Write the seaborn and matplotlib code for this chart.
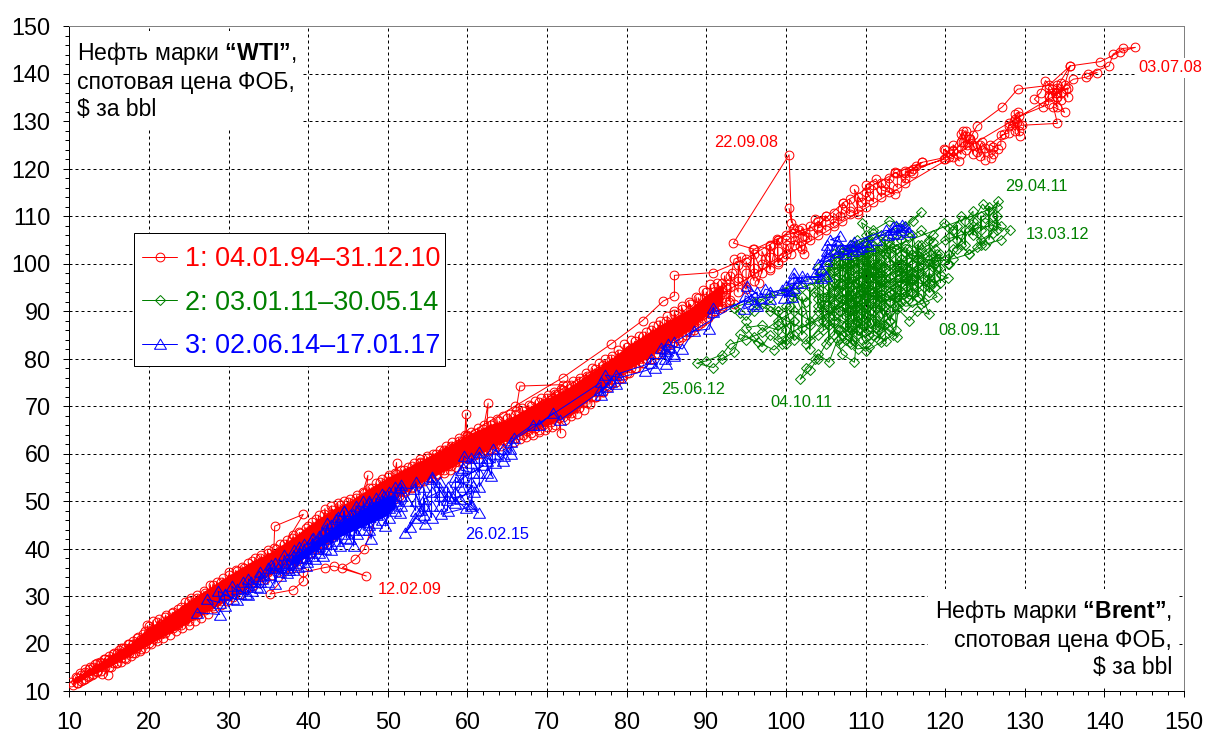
import matplotlib
matplotlib.use("Agg")
import matplotlib.pyplot as plt
from matplotlib.patches import Rectangle
from matplotlib.ticker import MultipleLocator
import pandas as pd
import seaborn as sns

sns.set_theme(style="white")
plt.rcParams["font.family"] = ["Liberation Sans", "DejaVu Sans"]
plt.rcParams["mathtext.fontset"] = "custom"
plt.rcParams["mathtext.bf"] = "Liberation Sans:bold"
plt.rcParams["mathtext.default"] = "regular"

# Where the markers of period 1 overlap into a solid mass: lower and upper WTI edge per Brent price
red_mass_brent = [10.5,12,14,16,18,20,22,25,28,30,33,35,38,40,43,45,48,50,53,55,58,60,63,65,68,70,73,75,78,80,83,85,88,90,92]
red_mass_low = [11.5,12.8,14.2,16,17.8,19.8,21.6,24.4,27.4,29.2,32.2,34.2,37.2,39.2,42.2,44.6,47.6,49.6,52.6,54.6,57,59,61,62.8,64.8,66,68,71,75,77.5,80.5,83,86,89,91.5]
red_mass_high = [12.2,14.2,16.2,18.4,20.4,23.4,25.4,29,32.2,34.4,37.4,39,42.2,44.8,48.2,49.8,53,55,57.6,59.2,62,64,66.2,67.2,70,71.6,74.2,76.6,79.8,82.6,85.8,87.8,90.6,93.4,95.6]
# Same for period 3
blue_mass_brent = [38,40,42,44,46,48,50,51]
blue_mass_low = [36.5,38.5,41,42.5,44,45.5,47,49]
blue_mass_high = [38,40.5,43,45.5,47.5,49.5,51,51.5]

# Brent price -> WTI prices seen at that Brent price
series_1_rows = {
 11:(11.6,12.8),11.5:(13.4,12.2),12:(12.6,14),12.5:(14.6,13.2),13:(13.5,15),13.5:(15.8,14.2),14:(14.2,16),14.5:(16.8,15),
 15:(15,16.8),15.5:(17.8,15.9),16:(16,18),16.5:(19,17),17:(17,19),17.5:(20,18),18:(18,20),18.5:(21.2,19),19:(18.8,21),19.5:(22.6,20),
 20:(20.2,22,23.6),20.5:(23,21),21:(21.2,23,24.6),21.5:(24.2,22),22:(22.2,24,25.6),22.5:(25,23),23:(23.2,25,26.6),23.5:(26,24),
 24:(24,26,27.6),24.5:(27.2,25),25:(24.8,26.8,29),25.5:(28,26),26:(26,27.6,29.6),26.5:(29,27),27:(27,28.6,30.6),27.5:(30.4,28),
 28:(28,30,32.4),28.5:(31.4,29),29:(29,30.8,33),29.5:(32.4,30),30:(30,32,34.4),30.5:(33.4,31),31:(31,33,35.2),31.5:(34.4,32),
 32:(32,33.8,36),32.5:(35.2,33),33:(33,35,37.4),33.5:(36.4,34),34:(34,35.8,38),34.5:(37.2,35),35:(35,36.8,39),35.5:(38.2,36),
 36:(36,37.8,40),36.5:(39.2,37),37:(37,38.8,41),37.5:(40.2,38),38:(38,40,42.2),38.5:(41.2,39),39:(39,41,43.2),39.5:(42.2,40),
 40:(40,42,44.8),40.5:(43.6,41.2),41:(41.2,43.6,46.2),41.5:(45,42.4),42:(42,44.6,47.2),42.5:(46,43.4),43:(43,45.6,48.2),43.5:(47,44.2),
 44:(44.4,46.8,49.2),44.5:(48,45.4),45:(45.2,47.4,49.8),45.5:(48.6,46.4),46:(46.2,48.4,50.6),46.5:(49.4,47.2),47:(47.4,49.4,51.6),47.5:(50.6,48.4),
 48:(48.2,50.4,52.8),48.5:(51.6,49.2),49:(49.2,51.4,54),49.5:(52.8,50.2),50:(50.2,52.4,55),50.5:(53.6,51.2),51:(51.2,53.2,55.6),51.5:(54.4,52),
 52:(52.2,54.2,56.6),52.5:(55.2,53),53:(53,55,57.4),53.5:(56.2,54),54:(54,56,58.2),54.5:(57,55),55:(55,56.8,59),55.5:(57.8,55.8),
 56:(55.6,57.6,59.8),56.5:(58.6,56.6),57:(56.6,58.6,60.8),57.5:(59.6,57.4),58:(57.4,59.4,61.6),58.5:(60.4,58.2),59:(58.2,60.2,62.6),59.5:(61.2,59),
 60:(59,61,63.6),60.5:(62.2,60),61:(60,62,64.4),61.5:(63,60.8),62:(60.6,62.8,65.2),62.5:(63.8,61.4),63:(61,63.4,66),63.5:(64.4,62),
 64:(62,64.2,66.8),64.5:(65.2,62.8),65:(62.6,65,67.4),65.5:(66,63.4),66:(63.2,65.8,68.2),66.5:(66.8,64),67:(63.8,66.4,69),67.5:(67.6,64.8),
 68:(64.4,67.2,70),68.5:(68.4,65.4),69:(65,68,70.8),69.5:(69,66),70:(65.6,68.8,71.6),70.5:(69.8,66.6),71:(66,69.6,72.6),71.5:(70.8,67.4),
 72:(67.6,70.6,73.4),72.5:(71.6,68.6),73:(68.6,71.4,74.4),73.5:(72.6,69.6),74:(69.6,72.4,75.2),74.5:(73.6,70.6),75:(70.6,73.4,76.4),75.5:(74.6,71.8),
 76:(72,74.6,77.8),76.5:(75.8,73),77:(73,76,78.6),77.5:(77,74.2),78:(74.6,77,79.8),78.5:(78.4,75.6),79:(75.6,78.4,81),79.5:(79.6,76.6),
 80:(77,79.8,82.4),80.5:(81,78),81:(78,81,83.6),81.5:(82.2,79),82:(79,82,84.8),82.5:(83.2,80),83:(80,83.2,86),83.5:(84.4,81),
 84:(81,84,87),84.5:(85.6,82),85:(82.4,85.6,88),85.5:(87,83.4),86:(83.4,86.8,89.4),86.5:(88,84.4),87:(84.6,88,90.4),87.5:(89,85.6),
 88:(85.6,89,91.4),88.5:(90,86.6),89:(87,90,92.8),89.5:(91.2,88),90:(88.4,91.4,94),90.5:(92.6,89.4),91:(90,93,95),91.5:(94,91),
 92:(91,94,96),92.5:(95,92),93:(92.4,95,97.4),94:(94,97,99.6),95:(95,98,100.4),96:(96.4,99,102),97:(98,100,102.6),98:(99,101.4,104),99:(100.4,102.6,105),
 100:(102,105),101:(104,106.5),102:(103,105.5,107.5),103:(105,108),104:(106,109),105:(107,110),106:(108,110.6),107:(109,111.5),
 108:(110.5,113.5),109:(111,114),110:(112,115),111:(113,116.5),112:(114,117),113:(115,118),114:(116,119),115:(117,119.5),116:(119,120),
 120:(122,124),121:(122.5,123.6,125),122:(123,125.5,127.2),122.6:(124,126.8,128),123.5:(123,125,127),124.4:(122.6,125),125:(121.8,124.4),126:(123,124.6),
 127:(125,127),128:(127.5,129.5),128.8:(128,130.4,131.4),129.3:(127.8,129.2,131),133:(133.5,135,137),134:(133,135,136,137.6),134.6:(134.5,136,138),135.4:(135,137),
}
# (Brent, WTI) path of the first period
series_1_points = [
 (10.2,12),(10.5,11.2),(10.8,13),(11.1,11.6),(11.4,13.8),(11.7,12.3),(12,14.6),(12.3,12.9),(12.6,15),(12.9,13.4),
 (13.2,15.6),(13.5,14),(13.8,16.2),(14.1,13.6),(14.4,16.8),(14.8,13.3),(15,17.4),(15.3,15),(15.6,18),(15.9,15.8),
 (16.2,18.6),(16.5,16.2),(16.8,19.1),(17.1,16.8),(17.4,19.8),(17.7,17.3),(18,20.6),(18.3,17.9),(18.6,21.3),(18.9,18.4),
 (19.2,22),(19.5,19),(19.8,23.8),(20.2,19.8),(20.5,24.8),(20.8,22),(21,20.5),(21.3,25.2),(21.6,23),(21.8,21.2),
 (22.1,26),(22.4,23.8),(22.6,21.8),(22.9,26.4),(23.2,24.5),(23.4,22.6),(23.7,27.2),(24,25),(24.2,23.2),(24.5,28.8),
 (24.8,26.2),(25,24),(25.3,29.6),(25.6,27),(25.8,24.8),(26.1,30.2),(26.4,27.8),(26.6,25.4),(26.9,31),(27.2,28.6),
 (27.4,26.2),(27.7,32.4),(28,30),(28.2,27.4),(28.5,33),(28.8,30.6),(29,28.2),(29.3,33.8),(29.6,31.4),(29.8,29),
 (30.1,35),(30.4,32.4),(30.6,29.8),(30.9,35.4),(31.2,33),(31.4,30.4),(31.7,36.2),(32,33.8),(32.2,31.4),(32.5,37),
 (32.8,34.8),(33,32.2),(33.3,38),(33.6,35.6),(33.8,32.8),(34.1,38.6),(34.4,36.2),(34.6,33.6),(34.9,39.6),(35.2,37),
 (35.4,34.4),(35.7,40.2),(35.8,44.7),(39.4,47.2),(36,37.8),(36.2,35),(36.5,41),(36.8,38.6),(37,35.8),(37.3,41.8),
 (37.6,39.4),(37.8,36.6),(38.1,42.8),(38.4,40.4),(38.6,37.4),(38.9,43.4),(39.2,41),(39.4,38),(39.7,44.4),(40,42),
 (40.2,39),(40.5,45.6),(40.8,42.6),(41,40),(41.3,47),(41.6,43.8),(41.8,41),(42.1,48.4),(42.4,45),(42.6,42),
 (42.9,49),(43.2,46),(43.4,42.8),(43.7,49.6),(44,46.8),(44.2,44),(44.5,50),(44.8,47.6),(45,44.6),(45.3,50.4),
 (45.6,48),(45.8,45.6),(46.1,51.2),(46.4,49),(46.6,46.4),(46.9,52),(47.5,55.4),(47.2,49.8),(47.4,47),(47.7,52.8),
 (48,50.4),(48.2,47.8),(48.5,53.8),(48.8,51),(49,48.6),(49.3,54.6),(49.6,52),(49.8,49.4),(50.1,55.4),(50.4,53),
 (50.6,50.2),(50.9,56),(51.1,58.1),(51.2,53.6),(51.4,51),(51.7,56.6),(52,54.2),(52.2,52),(52.5,57.2),(52.8,55),
 (53,52.8),(53.3,58),(53.6,55.8),(53.8,53.6),(54.1,58.8),(54.4,56.4),(54.6,54.2),(54.9,59.4),(55.2,57),(55.4,54.8),
 (55.7,60),(56,57.8),(56.2,55.4),(56.5,60.8),(56.8,58.4),(57,56),(57.3,61.6),(57.6,59.2),(57.8,56.6),(58.1,62.4),
 (58.4,60),(58.6,57.2),(58.9,63.2),(59.2,60.6),(59.4,58),(59.7,64),(59.8,68.4),(60,61.2),(60.2,58.8),(60.5,64.6),
 (60.8,62),(61,59.6),(61.3,65.4),(61.6,62.8),(61.8,60),(62.1,66),(62.6,70.6),(62.4,63.6),(62.6,60.6),(62.9,66.8),
 (63.2,64),(63.4,61),(63.7,67.2),(64,64.6),(64.2,61.6),(64.5,67.8),(64.8,65),(65,62),(65.3,68.4),(65.6,65.6),
 (65.8,62.4),(66.1,69),(66.6,74.2),(72,74.5),(66.4,66.2),(66.6,63),(66.9,69.6),(67.2,67),(67.4,63.4),(67.7,70.2),
 (68,67.4),(68.2,64),(68.5,71),(68.8,68),(69,64.6),(69.3,71.6),(69.6,68.8),(69.8,65),(70.1,72.4),(70.4,69.4),
 (70.6,65.6),(70.9,73),(71.2,70),(71.7,64.3),(71.7,73.6),(72,70.6),(72.2,67),(72.5,74.4),(72.8,71.2),(73,67.8),
 (73.3,75.2),(73.6,72),(73.8,68.4),(74.1,76),(74.4,73),(74.6,69.2),(74.9,77),(75.2,74),(75.4,70.4),(75.7,78),
 (76,75),(76.2,71.8),(76.5,79),(76.8,76.4),(77,73),(77.3,79.8),(77.6,77),(77.8,74),(78.1,80.6),(78.4,78),
 (78.6,75),(78.9,81.8),(79.2,79),(79.4,76),(79.7,83),(80,80.4),(80.3,77),(80.6,83.8),(80.9,81),(81.2,78),
 (81.5,84.8),(81.8,82),(82.1,79),(82.4,85.6),(82.7,83),(83,80),(83.3,86.8),(83.6,84),(83.9,81),(84.2,88),
 (84.5,85),(84.8,82),(85.1,89),(85.4,86.6),(85.7,83),(86,90),(86.3,87.4),(86.6,84),(86.9,91),(87.2,88.4),
 (87.5,85),(87.8,92),(88.1,89.4),(88.4,86),(88.7,93),(89,90.6),(89.3,87.4),(89.6,94.4),(89.9,91.6),(90.2,88.6),
 (90.5,95.6),(90.8,93),(91.1,90),(91.4,96),(91.7,93.4),(92,90.6),(92.3,97.4),(92.6,94.6),(92.9,92),(93.2,98),
 (93.5,100.9),(94.3,101.4),(94,96.4),(95,94.6),(95.9,103),(96,98),(96.6,96),(97.4,101),(98,103.6),(98,98.6),
 (98.9,105.1),(99,100),(99.6,101.4),(100.2,104),(100.6,102),(101.2,105),(101.8,103.6),(102.3,102),(102.6,105.6),(101.6,107),
 (100.9,107.2),(102.3,105.8),(103.6,109.3),(105,110),(104,107.5),(106,108.5),(106.8,110),(107.2,112.8),(108,111),(109.1,110.4),
 (108.6,115.6),(109.5,113),(110.4,114.2),(110,116.5),(111.3,117.8),(112,115.5),(113.7,114.6),(112.5,117),(113.7,119.2),(115,118),
 (115.7,119.5),(116.4,120.5),(117.1,121.3),(115,119),(119.8,122),(119.8,124.1),(120.6,123),(121.8,121.6),(121,124),(122.2,127.9),
 (122.8,125),(123.1,126.2),(124,123.5),(124.6,125.5),(125.8,122.3),(126.7,124.1),(125.6,125),(127.4,127.2),(128,129),(129,129.7),
 (129.4,126.9),(128.6,130),(129.2,131.8),(129.6,129.1),(134.1,129.5),(133.6,133),(135,131.8),(134,135),(133.4,136.8),(135.2,136.7),
 (133.9,136),(132.6,138.5),(132,136),(131.2,134.6),(132.3,133),(133,135.5),(134,137),(135.7,141.6),(135,137.5),(136.1,138.8),
 (137.7,139.2),(139.1,140.2),(138,140),(140.6,141.6),(141.1,144.1),(142.4,145.3),(143.9,145.5),(142,144.6),(139.5,142.5),(135.7,141.6),
 (133,137.5),(129.1,136.7),(127.2,133),(124,129),(123.1,126.2),(122.2,125.5),(120.5,122.5),(117.1,121.3),(113.7,119),(110.4,116),
 (107.2,112.8),(104,108),(100,106),(96,103),(93.4,104.3),(100.4,122.9),(100.7,108.6),(100.4,111.6),(101,107.5),(99,105),(95,101),(90.9,98.1),
 (86,97.5),(86,93.2),(84.6,92.1),(82,88),(78,83),(72,76),(66,70),(60,64),(54,58),(50,53),
 (47,39.8),(45.9,37.7),(44.3,36),(47.3,34.2),(43.2,36.3),(42.1,36),(39.4,35),(39.4,33.2),(38.1,31.3),(35.2,30.4),
 (38,36),(42,41),(46,46),(52,55),(60,62),(70,70),(80,80),(88,88),(93.5,91.4),
]

series_2_rows = {
 104:(91,97,94,99),104.7:(86,93,88,96,90),105.4:(95,84,100,90,98,87,93),106.1:(88,102,92,85,97,99,94),106.8:(96,90,86,100,103,93,83),
 107.5:(84,97,101,89,94,87,99,91),108.2:(100,86,92,104,95,89,97,83),108.9:(93,99,85,102,88,96,91,105),109.6:(87,94,101,84,98,90,103,92),
 110.3:(102,96,89,105,86,93,99,91),111:(90,85,97,101,94,88,104,99),111.7:(103,92,86,98,95,89,100,84),112.4:(87,99,93,102,96,91,105),
 113.1:(100,94,104,97,90,92,88),113.8:(93,103,99,95,91,101,86),114.5:(96,100,92,105,94,98),115.2:(99,93,103,95,101,97),
 115.9:(94,102,97,100,92,106),116.6:(101,96,93,99,104,98),117.3:(95,100,97,102,92),118:(98,94,101,96,105),118.7:(97,100,95,103),119.4:(99,96,102),
 99:(84,87,90),100:(86,83,91),101:(84,88,94),102:(90,85,93),103:(87,82,95,84),
 107.1:(92.5,98.5,88.5,95.5,101.5),107.8:(90,96,86,102.5,93),108.5:(94,99,87.5,101,91),109.2:(96.5,89,100,93.5,86),109.9:(91,97.5,85.5,102,95),
 110.6:(94,100.5,87.5,97,90),111.3:(92,98,86.5,102.5,95.5),112:(89.5,96.5,100.5,93),
 120.5:(102,105.5,100,107.5),121.5:(105,108,103),122.5:(107,104,109),123.5:(111,106,108),124.5:(104,110,107),125.5:(108,112,105),126.5:(110,107,112),
}
series_2_points = [
 (93.5,90.7),(94.2,89.5),(95,88),(96,90),(97,91.5),(98,91),(99,90),(100.5,91),(101,93),(102.5,92),
 (103.5,94),(105,93),(106,96),(107,94),(108,97),(109.5,95),(110,99),(111.5,97),(112,100),(113,98.5),
 (114.5,101),(115,99),(116.5,102),(117,104),(118.5,106),(119.8,108.6),(121,107),(122,110),(123.5,109),(124.7,112.5),
 (125.5,111),(126.7,113.2),(126,110),(127,108),(125,109.5),(123,107),(124.5,105),(126,106.5),(124,103.5),(123,102),
 (122,104),(121,103),(120.4,100),(119,102),(118,100),(119.5,97.5),(120.4,97),(118.5,96),(117,98),(116,95.5),
 (115,97),(114,94.5),(115.5,92.5),(117,93.5),(118,89.3),(116.5,90),(115.5,88),(114,90.5),(113,88),(112,91),
 (112.6,83.7),(111,85),(110,83),(109,86),(108.6,79.2),(107,81),(106.5,84),(105.4,79.2),(104,81),(103.6,79.9),
 (102.5,78),(101.8,75.6),(103,77.5),(104,80),(105,83),(106.5,86),(108,83.5),(109,88),(110.5,85),(111.5,88),
 (113,86),(114,84.5),(112.5,90),(110,91.5),(108.5,89),(107,91),(108,93.5),(109.5,90),(111,94),(113,92),
 (115,94),(116,98),(114,99.5),(112,96),(110,98),(108,95),(106,98.5),(107.5,100),(109,101.5),(111,103),
 (113,102),(115,104),(117,103),(118.5,104.5),(117,107),(115.5,105.5),(114,107.5),(112,106),(110,104.5),(108,103),
 (106,101),(105,98),(107,96),(109,97.5),(111,100),(113,96),(115,96.5),(117,100),(119,99),(118,97),
 (116,93.5),(114,92),(112,93.5),(110,95.5),(108,91.5),(106,93.5),(104.5,91),(106,89),(108,87),(110,89),
 (112,87),(113.5,85),(112,83.5),(110,81.5),(108.5,84),(107.5,87),(109,91),(111,92.5),(113,94),(115,91),
 (117,91.5),(119,93),(118,95),(116,96.5),(114,96),(112,98),(110,100.5),(108,98.5),(106,100),(107,102.5),
 (109,104),(111,106.5),(113,104.5),(115,102.5),(117,101),(119,100.5),(121,101),(123,102),(125,104),(127,105),
 (128.1,107),(126,108),(124,107.5),(122,106),(120,105),(118,102.5),(116,100),(114,97.5),(112,95),(110,93),
 (108,90),(106,91.5),(104,92.5),(105,88),(107,85),(109,82),(110.5,82.5),(112,85.5),(110,87.5),(108,85.5),
 (106,87.5),(104,85),(102.5,83),(101,85),(99.5,83),(98,85),(97,82.5),(96,84.5),(95,86.5),(97,87),
 (99,86),(101,88),(100,84),(98.5,81.8),(96.5,83.5),(94.2,85.1),(93.5,81.3),(92,80),(90.9,78.1),(88.8,79),
 (90,79.5),(92,80.8),(93,83),(95,84),(97,85.5),(99,88),(101,90),(103,88),(104,90),(106,92),
 (108,94),(110,96),(112,99),(114,100),(116,101.5),(114,103),(112,104),(110,102),(108,100),(106,97),
 (104,96),(102,95),(100,94),(98,93),(96,92),(98,90),(100,88),(102,86.5),(104,88),(106,90),
 (108,92),(110,94),(112,92),(114,93),(116,95),(112,103),(110,106),(109.5,108.6),(111,107),(113,109),
 (115,108),(117,110.9),(116,109),(114,106),(112,101),(110,97.5),(108,96),(106,94.5),(108,99),(110,101),
 (112,97),(114,98.5),(116,97.5),(113,95),(111,96),(110,103),
]

series_3_rows = {
 29.5:(28,30.4),31:(29.2,31.4),32.5:(30.2,32,33.6),34:(31.6,33,35),35:(33,35.8),
 36.5:(35,36.6),37.3:(34.8,36,37.8),38.1:(36.5,38.4,35.4),38.9:(37,39,40.4),39.7:(38,40.2,36.4),40.5:(38.5,41,42),41.3:(39,40.6,42.6),
 42.1:(40,42,44),42.9:(41,43.4,45),43.7:(41.5,44.6,46.6),44.5:(43,46,48),45.3:(42,45,47),46.1:(43,46,47.6),46.9:(45.6,48,50),47.7:(44,46.6,50),
 48.5:(45.4,48,50.6),49.3:(46,49,51.4),50.1:(46.4,49.6,52),50.9:(48,50,53),51.7:(49,51,53.4),53.5:(48,50,54),54.5:(47,49,53),55.5:(46.5,49,52,55),
 56.5:(49,51,54),57.5:(51,48,53),58.5:(49.5,55,52),59.5:(55,57,53),60.5:(49,54,59),61.5:(56,59,53),62.5:(56,59),63.5:(58,60),64.5:(58.5,61),65.5:(60,62.5),
 76.8:(75,72.4),78.6:(74.6,76.6),83:(79,80),84.8:(80,82),86:(81,83.4),96.4:(94,91),98:(92.5,94),101:(94.8,98),102:(96,97.4),
 104.4:(97,98.8),105.2:(102.6,104),108.6:(103.6,104.6),
}
series_3_points = [
 (112.6,107),(113.5,106.4),(114.5,107),(115.5,106.6),(114.6,108.2),(113.4,107.6),(112.8,106),(114,106.2),(115,107.6),(113.8,108),
 (111.3,105),(110,104.6),(109.4,103.4),(108,104),(107,103),(108.4,102.6),(106.4,104.8),(105.6,105),(106.8,105.8),(106,103),
 (105,101.6),(104,100),(106.5,102.4),(107.5,102),(109,103),(110.4,103.6),(105,100.5),(103.6,97.8),(105,97.4),(102.7,97),
 (100.9,97),(100,95.3),(101.4,96),(99.8,92.8),(100.5,94.2),(99.5,94.5),(100.8,93),(97.4,94.6),(96.9,92.8),(95.1,95.3),
 (96,91.4),(94.7,90.4),(94.9,93.2),(95.6,92.5),(90.9,89.7),(90.9,90.7),(90.4,86.2),(88.4,85.8),(87,82),(85.2,83),
 (84.3,82.3),(85.9,80.6),(85,78.8),(84.8,81.5),(83.5,78.1),(82.3,77.4),(79.2,76),(77.3,76.5),(78,75),(76.7,73.4),
 (77.5,74),(71.6,67),(70.8,68.6),(69,66),(68.2,66.1),(65.9,63.3),(65.4,61),(64.6,59.5),(63.2,60.9),(63,55.3),
 (62.4,58.5),(61.5,60.3),(60.4,58),(59.6,59.5),(59.2,56.5),(60.7,56),(62,57.5),(58.6,54),(60.7,53.2),(59.1,50.4),
 (61.4,47.5),(60.4,49.4),(60.8,51.8),(58.2,50.6),(59.8,48.5),(56.7,47.2),(57.4,50.2),(55.6,54.6),(56.6,52),(54.6,50.5),
 (54.7,45.1),(53.4,46.5),(52.2,43.3),(52.8,44.5),(54.2,48.2),(53.3,52.6),(51.5,52.8),(52.4,50),(51.5,47.5),(50.6,50.7),
 (49.7,44.7),(50.1,48.5),(49.5,51),(48.7,47),(48.8,50),(47.9,42),(47.6,45),(47.7,49.5),(46.9,44),(46.7,47.8),
 (46,49),(45.7,40.5),(45.8,44),(45.6,47.2),(44.8,42.2),(44.6,45.6),(44.5,47.8),(44,40.5),(43.8,43.8),(43.5,46.2),
 (42.9,39.6),(42.8,42.7),(42.4,45.3),(41.9,38.4),(41.8,41),(41.7,43.3),(40.8,37.7),(41,39.8),(40.6,42.2),(39.9,37.2),
 (39.8,39),(39.5,41),(38.7,36.2),(38.6,38),(38.2,39.6),(37.6,35.4),(37.4,37),(37,38.6),(36.5,34.2),(36.2,35.8),
 (35.8,32.5),(35.8,37),(35.2,34.5),(35.3,36.6),(34.2,33.5),(33.8,34.2),(33.6,32),(32.8,33),(33,31),(31.8,32.9),
 (32.2,30.4),(31.4,30.5),(30.4,32.1),(30.6,29.4),(29.6,30.2),(28.7,31),(28.9,28.6),(27.3,29.3),(28.9,26.1),(26,26.5),
]

series_labels = ["1: 04.01.94–31.12.10", "2: 03.01.11–30.05.14", "3: 02.06.14–17.01.17"]
series_colors = ["#ff0000", "#008000", "#0000ff"]
axis_ticks = list(range(10, 151, 10))
wti_title = "Нефть марки $\\mathbf{“WTI”}$,\nспотовая цена ФОБ,\n$ за bbl"
brent_title = "Нефть марки $\\mathbf{“Brent”}$,\nспотовая цена ФОБ,\n$ за bbl"
date_labels = [
 ("03.07.08", 148.3, 141.2, 0), ("22.09.08", 95, 125.4, 0), ("12.02.09", 52.8, 31.3, 0),
 ("29.04.11", 131.4, 116.3, 1), ("13.03.12", 134.1, 106.2, 1), ("08.09.11", 123, 85.8, 1),
 ("25.06.12", 88.4, 73.4, 1), ("04.10.11", 102, 70.8, 1), ("26.02.15", 63.7, 43, 2),
]


def path_from_rows(rows):
    return [(x, y) for x, ys in rows.items() for y in ys]


W, H = 1213, 751
L, R, T, B = 69.3, 1184, 26, 691
fig = plt.figure(figsize=(W / 100, H / 100), dpi=100, facecolor="white")
ax = fig.add_axes([L / W, 1 - B / H, (R - L) / W, (B - T) / H])

ax.fill_between(red_mass_brent, red_mass_low, red_mass_high, color=series_colors[0], linewidth=0, zorder=2.9)
ax.fill_between(blue_mass_brent, blue_mass_low, blue_mass_high, color=series_colors[2], linewidth=0, zorder=3.05)

paths = [path_from_rows(series_1_rows) + series_1_points,
         path_from_rows(series_2_rows) + series_2_points,
         path_from_rows(series_3_rows) + series_3_points]
markers = ["o", "D", [(-1, -0.8), (1, -0.8), (0, 0.9), (-1, -0.8)]]
sizes = [6.3, 5.0, 8.6]
orders = [3, 3.01, 3.1]
for pts, lab, col, mk, ms, zo in zip(paths, series_labels, series_colors, markers, sizes, orders):
    df = pd.DataFrame(pts, columns=["brent", "wti"])
    sns.lineplot(data=df, x="brent", y="wti", sort=False, estimator=None, ax=ax,
                 color=col, linewidth=0.72, marker=mk, markersize=ms,
                 markerfacecolor="none", markeredgecolor=col, markeredgewidth=0.72,
                 label=lab, zorder=zo)

ax.set_xlim(10, 150)
ax.set_ylim(10, 150)
ax.set_xticks(axis_ticks)
ax.set_yticks(axis_ticks)
ax.xaxis.set_minor_locator(MultipleLocator(2))
ax.yaxis.set_minor_locator(MultipleLocator(2))
ax.set_xlabel("")
ax.set_ylabel("")
ax.set_axisbelow(True)
ax.grid(True, which="major", color="black", linewidth=0.72, linestyle=(0, (3, 3)))
ax.tick_params(axis="x", which="major", length=4.5, width=0.72, direction="out", labelsize=16.8, pad=10,
               bottom=True, color="black", labelcolor="black")
ax.tick_params(axis="y", which="major", length=4.5, width=0.72, direction="out", labelsize=16.8, pad=9,
               left=True, color="black", labelcolor="black")
ax.tick_params(which="minor", length=3, width=0.72, direction="out", bottom=True, left=True, color="black")
for side, c in [("left", "black"), ("bottom", "black"), ("top", "#808080"), ("right", "#808080")]:
    ax.spines[side].set_color(c)
    ax.spines[side].set_linewidth(0.72)

for txt, x, y, idx in date_labels:
    ax.text(x, y, txt, color=series_colors[idx], fontsize=11.8, ha="center", va="center", zorder=4,
            bbox=dict(facecolor="white", edgecolor="none", pad=2))

ax.text(77 / W, 1 - 40 / H, wti_title, transform=fig.transFigure, fontsize=16.6, ha="left", va="top",
        color="black", linespacing=1.22, zorder=4, bbox=dict(facecolor="white", edgecolor="none", pad=5))
ax.text(1172 / W, 1 - 679 / H, brent_title, transform=fig.transFigure, fontsize=16.6, ha="right", va="bottom",
        multialignment="right", color="black", linespacing=1.22, zorder=4,
        bbox=dict(facecolor="white", edgecolor="none", pad=5))

ax.add_patch(Rectangle((134 / W, 1 - 366 / H), 311 / W, 133 / H, transform=fig.transFigure,
                       facecolor="white", edgecolor="black", linewidth=0.72, zorder=5))
handles, labels = ax.get_legend_handles_labels()
leg = ax.legend(handles, labels, loc="upper left", bbox_to_anchor=(134 / W, 1 - 238 / H),
                bbox_transform=fig.transFigure, frameon=False, fontsize=19.45, numpoints=1,
                handlelength=1.29, handletextpad=0.28, labelspacing=0.65, borderpad=0.3,
                borderaxespad=0, labelcolor="linecolor")
leg.set_zorder(6)

fig.savefig("out.png", dpi=100)
